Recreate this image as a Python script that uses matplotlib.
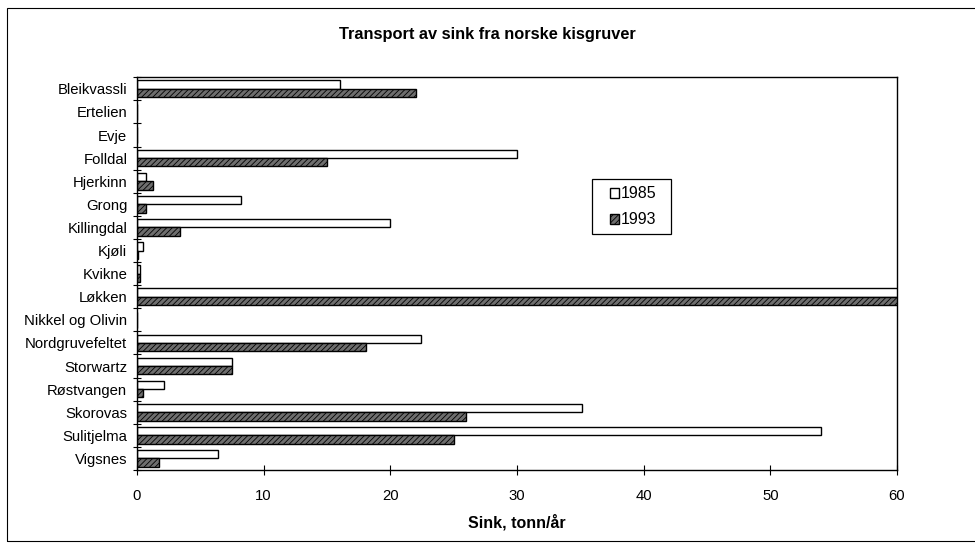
import matplotlib.pyplot as plt
import numpy as np
from matplotlib.patches import Rectangle

plt.rcParams['font.family'] = ['Liberation Sans', 'DejaVu Sans']
plt.rcParams['hatch.linewidth'] = 0.6

mines = ['Bleikvassli', 'Ertelien', 'Evje', 'Folldal', 'Hjerkinn', 'Grong',
         'Killingdal', 'Kjøli', 'Kvikne', 'Løkken', 'Nikkel og Olivin',
         'Nordgruvefeltet', 'Storwartz', 'Røstvangen', 'Skorovas',
         'Sulitjelma', 'Vigsnes']
# Løkken goes off the scale in both years
sink_1985 = [16.0, 0, 0, 30.0, 0.7, 8.2, 20.0, 0.5, 0.2, 75, 0,
             22.4, 7.5, 2.1, 35.1, 54.0, 6.4]
sink_1993 = [22.0, 0, 0, 15.0, 1.3, 0.7, 3.4, 0.1, 0.2, 75, 0,
             18.1, 7.5, 0.5, 26.0, 25.0, 1.7]
xticks = [0, 10, 20, 30, 40, 50, 60]

fig = plt.figure(figsize=(9.75, 5.44), dpi=100)
fig.patches.append(Rectangle((0.007, 0.005), 1.2, 0.981, transform=fig.transFigure,
                             fill=False, edgecolor='black', linewidth=0.8))
ax = fig.add_axes([0.1405, 0.136, 0.7795, 0.722])

y = np.arange(len(mines))
h = 0.36
ax.barh(y - h / 2, sink_1985, height=h, color='white', edgecolor='black',
        linewidth=1.0, label='1985')
ax.barh(y + h / 2, sink_1993, height=h, color='#6e6e6e', edgecolor='black',
        hatch='//////', linewidth=1.0, label='1993')

ax.set_xlim(0, 60)
ax.set_ylim(len(mines) - 0.5, -0.5)
ax.set_xticks(xticks)
ax.set_yticks(y)
ax.set_yticklabels(mines)
ax.set_yticks(np.arange(-0.5, len(mines), 1), minor=True)
ax.tick_params(axis='y', which='major', length=0, pad=7, labelsize=10.7)
ax.tick_params(axis='y', which='minor', direction='inout', length=6, width=0.8)
ax.tick_params(axis='x', direction='inout', length=7, width=0.8, pad=10, labelsize=10.7)
for s in ax.spines.values():
    s.set_linewidth(1.0)

ax.set_xlabel('Sink, tonn/år', fontsize=11.5, fontweight='bold', labelpad=8)
fig.text(0.5, 0.936, 'Transport av sink fra norske kisgruver', ha='center',
         va='center', fontsize=11.8, fontweight='bold')

# legend box drawn separately so the padding matches the original
ax.add_patch(Rectangle((0.599, 0.6005), 0.104, 0.14, transform=ax.transAxes,
                       fill=False, edgecolor='black', linewidth=0.9, zorder=5))
leg = ax.legend(loc='center', bbox_to_anchor=(0.653, 0.67), frameon=False,
                fontsize=11.5, handlelength=0.55, handleheight=0.55,
                handletextpad=0.15, labelspacing=0.69, borderpad=0,
                borderaxespad=0)

fig.savefig('out.png', dpi=100)
